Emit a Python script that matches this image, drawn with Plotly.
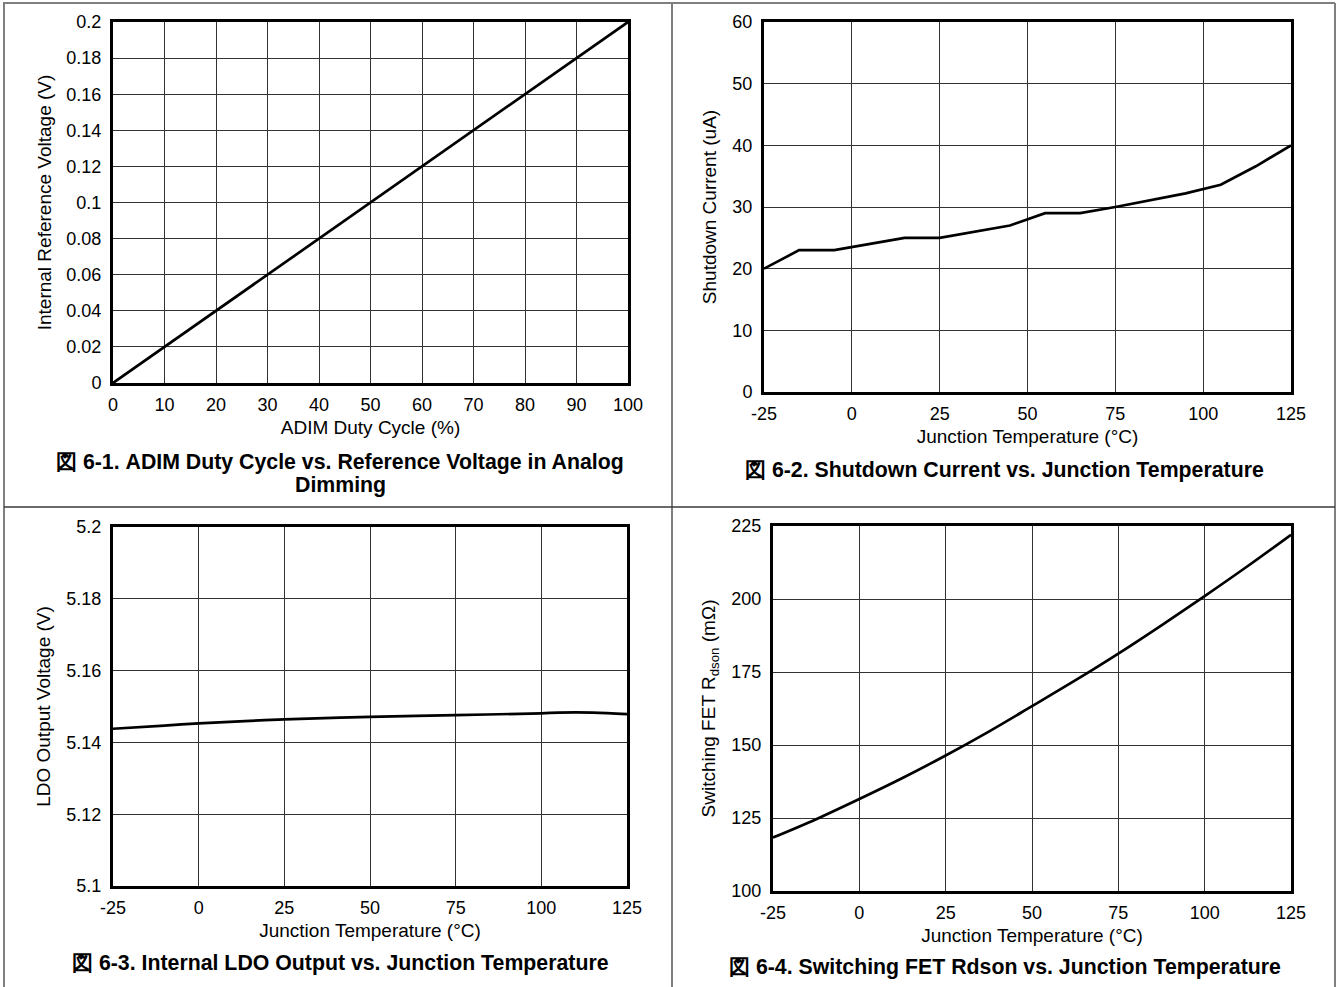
import plotly.graph_objects as go

# ---- data ----
adim_duty = [0, 10, 20, 30, 40, 50, 60, 70, 80, 90, 100]
adim_vref = [0, 0.02, 0.04, 0.06, 0.08, 0.10, 0.12, 0.14, 0.16, 0.18, 0.20]

sd_temp = [-25, -15, -5, 15, 25, 45, 55, 65, 75, 85, 95, 105, 115, 125]
sd_current = [20, 23, 23, 25, 25, 27, 29, 29, 30, 31.1, 32.2, 33.6, 36.6, 40]

ldo_temp = [-25, -10, 0, 15, 25, 50, 75, 100, 105, 115, 125]
ldo_volt = [5.1438, 5.1447, 5.1453, 5.1460, 5.1464, 5.1471, 5.1476, 5.1481,
            5.1483, 5.1483, 5.1479]

fet_temp = [-25, -12.5, 0, 12.5, 25, 37.5, 50, 62.5, 75, 87.5, 100, 112.5, 125]
fet_rdson = [118.3, 124.6, 131.5, 138.7, 146.4, 154.6, 163.3, 172.1, 181.3, 191.0, 201.0, 211.3, 222.0]

x1_ticks = [0, 10, 20, 30, 40, 50, 60, 70, 80, 90, 100]
y1_ticks = [0, 0.02, 0.04, 0.06, 0.08, 0.1, 0.12, 0.14, 0.16, 0.18, 0.2]
y1_text = ["0", "0.02", "0.04", "0.06", "0.08", "0.1", "0.12", "0.14", "0.16", "0.18", "0.2"]
t_ticks = [-25, 0, 25, 50, 75, 100, 125]
t_text = ["-25", "0", "25", "50", "75", "100", "125"]
y2_ticks = [0, 10, 20, 30, 40, 50, 60]
y3_ticks = [5.1, 5.12, 5.14, 5.16, 5.18, 5.2]
y3_text = ["5.1", "5.12", "5.14", "5.16", "5.18", "5.2"]
y4_ticks = [100, 125, 150, 175, 200, 225]

captions = [
    "図 6-1. ADIM Duty Cycle vs. Reference Voltage in Analog",
    "Dimming",
    "図 6-2. Shutdown Current vs. Junction Temperature",
    "図 6-3. Internal LDO Output vs. Junction Temperature",
    "図 6-4. Switching FET Rdson vs. Junction Temperature",
]

W, H = 1338, 987
FONT = "Liberation Sans, Arial, sans-serif"


def px(x):
    return x / W


def py(y):
    return 1 - y / H


fig = go.Figure()
line = dict(color="black", width=2.7)
sline = dict(color="black", width=2.7, shape="spline")
fig.add_trace(go.Scatter(x=adim_duty, y=adim_vref, mode="lines", line=line, xaxis="x", yaxis="y"))
fig.add_trace(go.Scatter(x=sd_temp, y=sd_current, mode="lines", line=line, xaxis="x2", yaxis="y2"))
fig.add_trace(go.Scatter(x=ldo_temp, y=ldo_volt, mode="lines", line=sline, xaxis="x3", yaxis="y3"))
fig.add_trace(go.Scatter(x=fet_temp, y=fet_rdson, mode="lines", line=sline, xaxis="x4", yaxis="y4"))

tickfont = dict(family=FONT, size=18, color="black")
titlefont = dict(family=FONT, size=19, color="black")
GRID = "#333333"


def xax(dom, anchor, rng, ticks, text, title):
    d = dict(domain=dom, anchor=anchor, range=rng, tickvals=ticks, ticks="",
             showgrid=True, gridcolor=GRID, gridwidth=1, zeroline=False,
             showline=True, linecolor="black", linewidth=3, mirror=True,
             tickfont=tickfont, ticklabelstandoff=3, automargin=False,
             title=dict(text=title, font=titlefont, standoff=8),
             fixedrange=True)
    if text is not None:
        d["ticktext"] = text
    return d


def yax(dom, anchor, rng, ticks, text, title, standoff):
    d = dict(domain=dom, anchor=anchor, range=rng, tickvals=ticks, ticks="",
             showgrid=True, gridcolor=GRID, gridwidth=1, zeroline=False,
             showline=True, linecolor="black", linewidth=3, mirror=True,
             tickfont=tickfont, ticklabelstandoff=5, automargin=False,
             title=dict(text=title, font=titlefont, standoff=standoff),
             fixedrange=True)
    if text is not None:
        d["ticktext"] = text
    return d


fig.update_layout(
    width=W, height=H, margin=dict(l=0, r=0, t=0, b=0, pad=0, autoexpand=False),
    paper_bgcolor="white", plot_bgcolor="white", showlegend=False,
    xaxis=xax([px(113), px(628)], "y", [0, 100], x1_ticks, None, "ADIM Duty Cycle (%)"),
    yaxis=yax([py(383), py(22)], "x", [0, 0.2], y1_ticks, y1_text, "Internal Reference Voltage (V)", 10),
    xaxis2=xax([px(764), px(1291)], "y2", [-25, 125], t_ticks, t_text, "Junction Temperature (°C)"),
    yaxis2=yax([py(392), py(22)], "x2", [0, 60], y2_ticks, None, "Shutdown Current (uA)", 11),
    xaxis3=xax([px(113), px(627)], "y3", [-25, 125], t_ticks, t_text, "Junction Temperature (°C)"),
    yaxis3=yax([py(886), py(527)], "x3", [5.1, 5.2], y3_ticks, y3_text, "LDO Output Voltage (V)", 11),
    xaxis4=xax([px(773), px(1291)], "y4", [-25, 125], t_ticks, t_text, "Junction Temperature (°C)"),
    yaxis4=yax([py(891), py(526)], "x4", [100, 225], y4_ticks, None,
               "Switching FET R<sub>dson</sub> (mΩ)", 11),
)

# table borders
border = dict(color="#7f7f7f", width=2)
fig.add_shape(type="line", xref="paper", yref="paper", x0=px(3), x1=px(1335), y0=py(3), y1=py(3), line=border)
fig.add_shape(type="line", xref="paper", yref="paper", x0=px(4), x1=px(4), y0=py(3), y1=0, line=border)
fig.add_shape(type="line", xref="paper", yref="paper", x0=px(1335), x1=px(1335), y0=py(3), y1=0, line=border)
fig.add_shape(type="line", xref="paper", yref="paper", x0=px(672), x1=px(672), y0=py(3), y1=0, line=border)
fig.add_shape(type="line", xref="paper", yref="paper", x0=px(4), x1=px(1335), y0=py(507), y1=py(507),
              line=dict(color="#3a3a3a", width=1.5))

capfont = dict(family=FONT, size=21.3, color="black")
cap_pos = [(340, 462), (340, 485), (1005, 470), (340, 963), (1005, 967)]
for text, (cx, cy) in zip(captions, cap_pos):
    fig.add_annotation(text="<b>" + text + "</b>", xref="paper", yref="paper",
                       x=px(cx), y=py(cy), showarrow=False, font=capfont,
                       xanchor="center", yanchor="middle", align="center")

fig.write_html("out.html", post_script="document.body.style.margin='0';")
